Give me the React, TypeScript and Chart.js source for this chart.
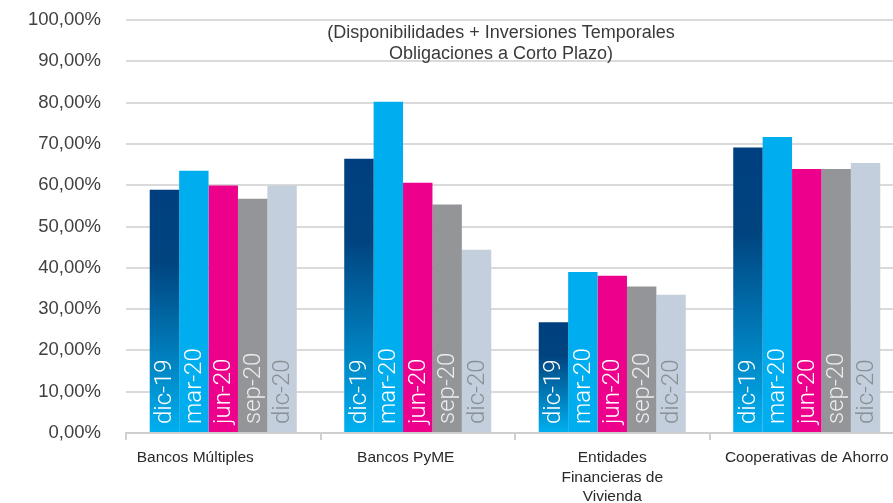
import React, { useEffect, useRef } from "react";
import { Chart, registerables } from "chart.js";

Chart.register(...registerables);

// Liquidity ratio by type of financial entity, per quarter (%)
const categories: string[][] = [
  ["Bancos Múltiples"],
  ["Bancos PyME"],
  ["Entidades", "Financieras de", "Vivienda"],
  ["Cooperativas de Ahorro"],
];
const periods = ["dic-19", "mar-20", "jun-20", "sep-20", "dic-20"];
const dic19 = [58.9, 66.4, 26.8, 69.1];
const mar20 = [63.5, 80.2, 39.0, 71.7];
const jun20 = [59.9, 60.6, 38.1, 63.9];
const sep20 = [56.7, 55.3, 35.5, 63.9];
const dic20 = [59.9, 44.4, 33.5, 65.4];
const titleLines = [
  "(Disponibilidades + Inversiones Temporales",
  "Obligaciones a Corto Plazo)",
];

const seriesValues = [dic19, mar20, jun20, sep20, dic20];
const seriesColors = ["#003f7f", "#00aeef", "#ec008c", "#939598", "#c3cfdc"];
const seriesTextColors = ["#ffffff", "#ffffff", "#ffffff", "#ececec", "#8a8f97"];
// horizontal nudges of the category captions, px
const captionShift = [-28, -12, 0, 0];

const SANS = "'Liberation Sans', Arial, sans-serif";

const fmt = (v: number) => v.toFixed(2).replace(".", ",") + "%";

// dark-to-cyan vertical gradient for the first series, one per bar
function gradientFill(ctx: any) {
  const chart = ctx.chart;
  const { chartArea, scales } = chart;
  if (!chartArea || ctx.type !== "data") return seriesColors[0];
  const v = ctx.raw as number;
  const top = scales.y.getPixelForValue(v);
  const bottom = scales.y.getPixelForValue(0);
  const g = chart.ctx.createLinearGradient(0, top, 0, bottom);
  g.addColorStop(0, "#003f7f");
  g.addColorStop(0.3, "#00447f");
  g.addColorStop(1, "#00b0f0");
  return g;
}

const barLabels = {
  id: "barLabels",
  afterDatasetsDraw(chart: any) {
    const ctx = chart.ctx;
    ctx.save();
    ctx.font = "300 24px Roboto, 'Liberation Sans', sans-serif";
    ctx.textAlign = "left";
    ctx.textBaseline = "middle";
    chart.data.datasets.forEach((ds: any, i: number) => {
      const meta = chart.getDatasetMeta(i);
      ctx.fillStyle = seriesTextColors[i];
      meta.data.forEach((bar: any) => {
        ctx.save();
        ctx.translate(bar.x, bar.base - 8);
        ctx.rotate(-Math.PI / 2);
        ctx.fillText(ds.label, 0, 1);
        ctx.restore();
      });
    });
    ctx.restore();
  },
};

const captions = {
  id: "captions",
  afterDraw(chart: any) {
    const ctx = chart.ctx;
    const area = chart.chartArea;
    const x = chart.scales.x;
    ctx.save();
    ctx.textAlign = "center";
    ctx.textBaseline = "middle";
    // title over the plot
    ctx.fillStyle = "#3a3a3a";
    ctx.font = `18px ${SANS}`;
    const cx = 501;
    titleLines.forEach((t, k) => ctx.fillText(t, cx, area.top + 13 + k * 21));
    // category captions under the axis
    ctx.fillStyle = "#2a2a2a";
    ctx.font = `15.5px ${SANS}`;
    categories.forEach((lines, i) => {
      const px = x.getPixelForValue(i) + captionShift[i];
      lines.forEach((t, k) => ctx.fillText(t, px, area.bottom + 25 + k * 19.5));
    });
    ctx.restore();
  },
};

export default function App() {
  const ref = useRef<HTMLCanvasElement>(null);

  useEffect(() => {
    if (!ref.current) return;
    const chart = new Chart(ref.current, {
      type: "bar",
      data: {
        labels: categories.map((c) => c.join(" ")),
        datasets: periods.map((p, i) => ({
          label: p,
          data: seriesValues[i],
          backgroundColor: i === 0 ? gradientFill : seriesColors[i],
          borderWidth: 0,
          categoryPercentage: 0.756,
          barPercentage: 1,
        })),
      },
      options: {
        responsive: false,
        animation: false,
        layout: { padding: { top: 20, right: 0, left: 0, bottom: 0 } },
        plugins: {
          legend: { display: false },
          tooltip: { enabled: false },
          title: { display: false },
        },
        scales: {
          x: {
            ticks: { display: false },
            grid: {
              drawOnChartArea: false,
              drawTicks: true,
              tickLength: 7,
              color: "#cfcfcf",
              lineWidth: 2,
            },
            border: { display: true, color: "#cfcfcf", width: 2 },
            afterFit: (s: any) => {
              s.height = 70;
            },
          },
          y: {
            min: 0,
            max: 100,
            ticks: {
              stepSize: 10,
              padding: 0,
              color: "#404040",
              font: { family: SANS, size: 18.5 },
              callback: (v: any) => fmt(Number(v)),
            },
            grid: {
              drawTicks: true,
              tickLength: 25,
              tickColor: "rgba(0,0,0,0)",
              color: "#dadada",
              lineWidth: 2,
            },
            border: { display: false },
            afterFit: (s: any) => {
              s.width = 126;
            },
          },
        },
      },
      plugins: [barLabels, captions],
    });
    return () => chart.destroy();
  }, []);

  return (
    <div
      style={{
        position: "fixed",
        left: 0,
        top: 0,
        width: 893,
        height: 503,
        overflow: "hidden",
        background: "#ffffff",
      }}
    >
      <canvas ref={ref} width={904} height={503} style={{ display: "block" }} />
    </div>
  );
}
